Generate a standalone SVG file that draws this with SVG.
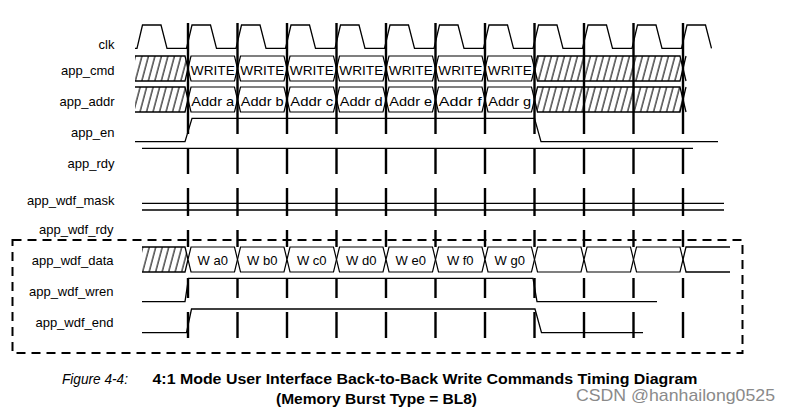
<svg xmlns="http://www.w3.org/2000/svg" width="793" height="414" viewBox="0 0 793 414">
<style>
.lbl{font-family:"Liberation Sans",Arial,sans-serif;font-size:13px;fill:#000;text-anchor:end}
.bt{font-family:"Liberation Sans",Arial,sans-serif;font-size:13px;fill:#000;text-anchor:middle}
.w{fill:none;stroke:#000;stroke-width:1.3;stroke-linejoin:miter}
.bus{fill:#fff;stroke:#000;stroke-width:1.2}
.hf{fill:url(#h);stroke:none}
.tick{fill:none;stroke:#000;stroke-width:2.4}
.cap{font-family:"Liberation Sans",Arial,sans-serif;font-size:14px;fill:#000}
</style>
<defs>
<pattern id="h" width="6.5" height="30" patternUnits="userSpaceOnUse" patternTransform="skewX(-15)">
<path d="M1,0V30" stroke="#000" stroke-width="1.1"/>
</pattern>
</defs>
<rect width="793" height="414" fill="#fff"/>

<g id="clk">
<text class="lbl" x="114.5" y="48.5">clk</text>
<path class="w" d="M135,48.3 H137 L142.5,25 H161 L167,48.3 H186.5 L192,25 H210.5 L216.5,48.3 H236 L241.5,25 H260 L266,48.3 H285.5 L291,25 H309.5 L315.5,48.3 H335 L340.5,25 H359 L365,48.3 H384.5 L390,25 H408.5 L414.5,48.3 H434 L439.5,25 H458 L464,48.3 H483.5 L489,25 H507.5 L513.5,48.3 H533 L538.5,25 H557 L563,48.3 H582.5 L588,25 H606.5 L612.5,48.3 H632 L637.5,25 H656 L662,48.3 H681.5 L687,25 H705.5 L711.5,48.3"/>
</g>

<g id="app_cmd">
<text class="lbl" x="114.5" y="75">app_cmd</text>
<path class="hf" d="M135,56 H185 L188,68.5 L185,81 H135 Z"/>
<path class="w" d="M135,56 H185 L188,68.5 L185,81 H135"/>
<path class="bus" d="M188,68.5 L191,56 H234.5 L237.5,68.5 L234.5,81 H191 Z"/>
<path class="bus" d="M237.5,68.5 L240.5,56 H284 L287,68.5 L284,81 H240.5 Z"/>
<path class="bus" d="M287,68.5 L290,56 H333.5 L336.5,68.5 L333.5,81 H290 Z"/>
<path class="bus" d="M336.5,68.5 L339.5,56 H383 L386,68.5 L383,81 H339.5 Z"/>
<path class="bus" d="M386,68.5 L389,56 H432.5 L435.5,68.5 L432.5,81 H389 Z"/>
<path class="bus" d="M435.5,68.5 L438.5,56 H482 L485,68.5 L482,81 H438.5 Z"/>
<path class="bus" d="M485,68.5 L488,56 H531.5 L534.5,68.5 L531.5,81 H488 Z"/>
<path class="hf" d="M534.5,68.5 L537.5,56 H680 L683,68.5 L680,81 H537.5 Z"/>
<path class="w" d="M534.5,68.5 L537.5,56 H680 L683,68.5 L680,81 H537.5 Z M683,68.5 L686,56 M683,68.5 L686,81"/>
<text class="bt" x="212.75" y="75" textLength="44" lengthAdjust="spacingAndGlyphs">WRITE</text>
<text class="bt" x="262.25" y="75" textLength="44" lengthAdjust="spacingAndGlyphs">WRITE</text>
<text class="bt" x="311.75" y="75" textLength="44" lengthAdjust="spacingAndGlyphs">WRITE</text>
<text class="bt" x="361.25" y="75" textLength="44" lengthAdjust="spacingAndGlyphs">WRITE</text>
<text class="bt" x="410.75" y="75" textLength="44" lengthAdjust="spacingAndGlyphs">WRITE</text>
<text class="bt" x="460.25" y="75" textLength="44" lengthAdjust="spacingAndGlyphs">WRITE</text>
<text class="bt" x="509.75" y="75" textLength="44" lengthAdjust="spacingAndGlyphs">WRITE</text>
</g>

<g id="app_addr">
<text class="lbl" x="114.5" y="106">app_addr</text>
<path class="hf" d="M135,87 H185 L188,99.5 L185,112 H135 Z"/>
<path class="w" d="M135,87 H185 L188,99.5 L185,112 H135"/>
<path class="bus" d="M188,99.5 L191,87 H234.5 L237.5,99.5 L234.5,112 H191 Z"/>
<path class="bus" d="M237.5,99.5 L240.5,87 H284 L287,99.5 L284,112 H240.5 Z"/>
<path class="bus" d="M287,99.5 L290,87 H333.5 L336.5,99.5 L333.5,112 H290 Z"/>
<path class="bus" d="M336.5,99.5 L339.5,87 H383 L386,99.5 L383,112 H339.5 Z"/>
<path class="bus" d="M386,99.5 L389,87 H432.5 L435.5,99.5 L432.5,112 H389 Z"/>
<path class="bus" d="M435.5,99.5 L438.5,87 H482 L485,99.5 L482,112 H438.5 Z"/>
<path class="bus" d="M485,99.5 L488,87 H531.5 L534.5,99.5 L531.5,112 H488 Z"/>
<path class="hf" d="M534.5,99.5 L537.5,87 H680 L683,99.5 L680,112 H537.5 Z"/>
<path class="w" d="M534.5,99.5 L537.5,87 H680 L683,99.5 L680,112 H537.5 Z M683,99.5 L686,87 M683,99.5 L686,112"/>
<text class="bt" x="212.75" y="106" textLength="43" lengthAdjust="spacingAndGlyphs">Addr a</text>
<text class="bt" x="262.25" y="106" textLength="43" lengthAdjust="spacingAndGlyphs">Addr b</text>
<text class="bt" x="311.75" y="106" textLength="43" lengthAdjust="spacingAndGlyphs">Addr c</text>
<text class="bt" x="361.25" y="106" textLength="43" lengthAdjust="spacingAndGlyphs">Addr d</text>
<text class="bt" x="410.75" y="106" textLength="43" lengthAdjust="spacingAndGlyphs">Addr e</text>
<text class="bt" x="460.25" y="106" textLength="43" lengthAdjust="spacingAndGlyphs">Addr f</text>
<text class="bt" x="509.75" y="106" textLength="43" lengthAdjust="spacingAndGlyphs">Addr g</text>
</g>

<g id="app_en">
<text class="lbl" x="114.5" y="137">app_en</text>
<path class="w" d="M135,141.7 H185 L192,118.3 H534.5 L541,141.7 H718"/>
</g>

<g id="app_rdy">
<text class="lbl" x="114.5" y="168">app_rdy</text>
<path class="w" d="M142,148.3 H693"/>
</g>

<g id="app_wdf_mask">
<text class="lbl" x="114.5" y="205">app_wdf_mask</text>
<path class="w" d="M142,203.3 H724 M142,210 H724"/>
</g>

<g id="app_wdf_rdy">
<text class="lbl" x="113.5" y="234">app_wdf_rdy</text>
</g>

<g id="app_wdf_data">
<text class="lbl" x="113.5" y="265">app_wdf_data</text>
<path class="hf" d="M142,247 H185 L188,259.5 L185,272 H142 Z"/>
<path class="w" d="M142,247 H185 L188,259.5 L185,272 H142"/>
<path class="bus" d="M188,259.5 L191,247 H234.5 L237.5,259.5 L234.5,272 H191 Z"/>
<path class="bus" d="M237.5,259.5 L240.5,247 H284 L287,259.5 L284,272 H240.5 Z"/>
<path class="bus" d="M287,259.5 L290,247 H333.5 L336.5,259.5 L333.5,272 H290 Z"/>
<path class="bus" d="M336.5,259.5 L339.5,247 H383 L386,259.5 L383,272 H339.5 Z"/>
<path class="bus" d="M386,259.5 L389,247 H432.5 L435.5,259.5 L432.5,272 H389 Z"/>
<path class="bus" d="M435.5,259.5 L438.5,247 H482 L485,259.5 L482,272 H438.5 Z"/>
<path class="bus" d="M485,259.5 L488,247 H531.5 L534.5,259.5 L531.5,272 H488 Z"/>
<path class="bus" d="M534.5,259.5 L537.5,247 H581 L584,259.5 L581,272 H537.5 Z"/>
<path class="bus" d="M584,259.5 L587,247 H630.5 L633.5,259.5 L630.5,272 H587 Z"/>
<path class="bus" d="M633.5,259.5 L636.5,247 H680 L683,259.5 L680,272 H636.5 Z"/>
<path class="w" d="M730,247 H686 L683,259.5 L686,272 H730"/>
<text class="bt" x="212.75" y="265">W a0</text>
<text class="bt" x="262.25" y="265">W b0</text>
<text class="bt" x="311.75" y="265">W c0</text>
<text class="bt" x="361.25" y="265">W d0</text>
<text class="bt" x="410.75" y="265">W e0</text>
<text class="bt" x="460.25" y="265">W f0</text>
<text class="bt" x="509.75" y="265">W g0</text>
</g>

<g id="app_wdf_wren">
<text class="lbl" x="113.5" y="296">app_wdf_wren</text>
<path class="w" d="M142,301.7 H185 L188.5,278.3 H533 L537,301.7 H657"/>
</g>

<g id="app_wdf_end">
<text class="lbl" x="113.5" y="327">app_wdf_end</text>
<path class="w" d="M142,332.7 H186.5 L191.5,309 H535 L541.5,332.7 H643"/>
</g>

<g id="connectors">
<path class="tick" d="M188,23V134M188,148V174M188,188V216M188,230V247M188,278V298M188,312V338
M237.5,23V134M237.5,148V174M237.5,188V216M237.5,230V247M237.5,278V298M237.5,312V338
M287,23V134M287,148V174M287,188V216M287,230V247M287,278V298M287,312V338
M336.5,23V134M336.5,148V174M336.5,188V216M336.5,230V247M336.5,278V298M336.5,312V338
M386,23V134M386,148V174M386,188V216M386,230V247M386,278V298M386,312V338
M435.5,23V134M435.5,148V174M435.5,188V216M435.5,230V247M435.5,278V298M435.5,312V338
M485,23V134M485,148V174M485,188V216M485,230V247M485,278V298M485,312V338
M534.5,23V134M534.5,148V174M534.5,188V216M534.5,230V247M534.5,278V298M534.5,312V338
M584,23V134M584,148V174M584,188V216M584,230V247M584,278V298M584,312V338
M633.5,23V134M633.5,148V174M633.5,188V216M633.5,230V247M633.5,278V298M633.5,312V338
M683,23V134M683,148V174M683,188V216M683,230V247M683,278V298M683,312V338"/>
</g>

<g id="wdf_box">
<rect x="12.5" y="240" width="730" height="113" fill="none" stroke="#000" stroke-width="2" stroke-dasharray="9 6"/>
</g>

<g id="caption">
<text class="cap" x="62" y="384" font-style="italic" fill="#222" textLength="66" lengthAdjust="spacingAndGlyphs">Figure 4-4:</text>
<text class="cap" x="152.5" y="384" font-weight="bold" textLength="545" lengthAdjust="spacingAndGlyphs">4:1 Mode User Interface Back-to-Back Write Commands Timing Diagram</text>
<text class="cap" x="276" y="404" font-weight="bold" textLength="201" lengthAdjust="spacingAndGlyphs">(Memory Burst Type = BL8)</text>
<text x="576" y="401" font-family="Liberation Sans, Arial, sans-serif" font-size="17" fill="#8a8a8a" textLength="199" lengthAdjust="spacingAndGlyphs">CSDN @hanhailong0525</text>
</g>
</svg>
